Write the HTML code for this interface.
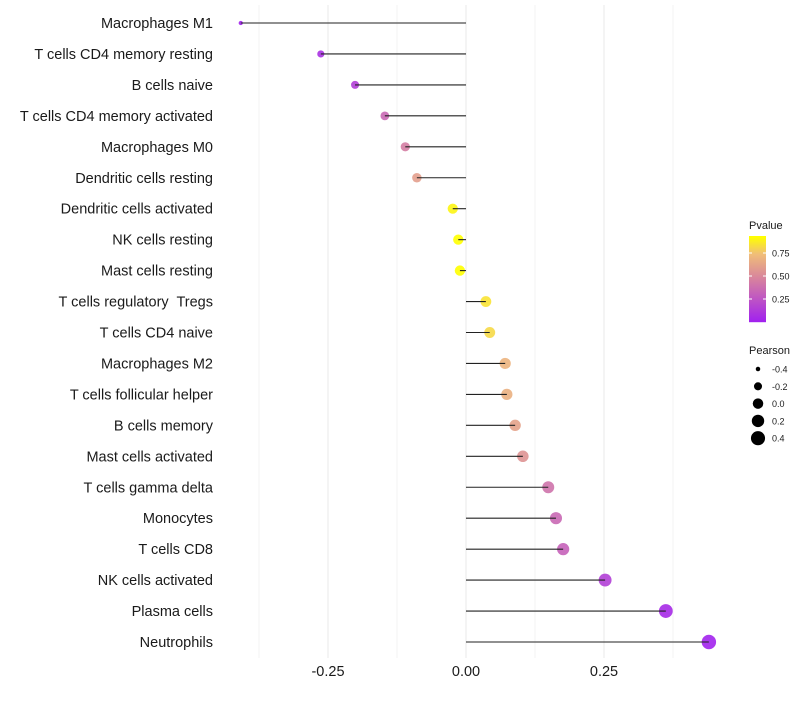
<!DOCTYPE html>
<html><head><meta charset="utf-8"><style>
body{margin:0;background:#fff;font-family:"Liberation Sans",sans-serif}
svg text{font-family:"Liberation Sans",sans-serif}
</style></head><body>
<svg id="chart" width="800" height="700">
<g id="grid"></g>
<g id="marks"></g>
<g id="ylabels"></g>
<g id="xlabels"></g>
<g id="legend"></g>
</svg>
<script>
const categories=["Macrophages M1","T cells CD4 memory resting","B cells naive","T cells CD4 memory activated","Macrophages M0","Dendritic cells resting","Dendritic cells activated","NK cells resting","Mast cells resting","T cells regulatory  Tregs","T cells CD4 naive","Macrophages M2","T cells follicular helper","B cells memory","Mast cells activated","T cells gamma delta","Monocytes","T cells CD8","NK cells activated","Plasma cells","Neutrophils"];
const pearson=[-0.408,-0.263,-0.201,-0.147,-0.110,-0.089,-0.024,-0.014,-0.011,0.036,0.043,0.071,0.074,0.089,0.103,0.149,0.163,0.176,0.252,0.362,0.440];
const pvalue=[0.02,0.08,0.15,0.35,0.45,0.6,0.9,0.93,0.95,0.85,0.82,0.7,0.68,0.62,0.55,0.4,0.35,0.32,0.15,0.05,0.02];
const xTicks=[-0.25,0,0.25];
const xTickLabels=["-0.25","0.00","0.25"];
const xGrid=[-0.375,-0.125,0.125,0.375];
const pTicks=[0.25,0.5,0.75];
const sizeTicks=[-0.4,-0.2,0.0,0.2,0.4];

const NS="http://www.w3.org/2000/svg";
const x=v=>466+v*552;
const y=i=>23+i*30.95;
const pMin=0,pMax=0.93;
function lerp(a,b,t){return a+(b-a)*t}
function color(p){
 let t=Math.max(0,Math.min(1,(p-pMin)/(pMax-pMin)));
 const stops=[[0,[160,32,240]],[0.5,[214,128,160]],[0.8,[240,190,120]],[1,[255,255,0]]];
 for(let k=0;k<stops.length-1;k++){const [a,ca]=stops[k],[b,cb]=stops[k+1];
  if(t<=b){const u=(t-a)/(b-a);return `rgb(${ca.map((c,j)=>Math.round(lerp(c,cb[j],u))).join(",")})`;}}
 return "rgb(255,255,0)";
}
const sMin=-0.45,sMax=0.44;
const rad=v=>Math.sqrt(lerp(2.25,52,(v-sMin)/(sMax-sMin)));
function mk(tag,attrs,parent){const e=document.createElementNS(NS,tag);for(const k in attrs)e.setAttribute(k,attrs[k]);parent.appendChild(e);return e;}
const grid=document.getElementById("grid"),marks=document.getElementById("marks"),yl=document.getElementById("ylabels"),xl=document.getElementById("xlabels"),lg=document.getElementById("legend");
xGrid.concat(xTicks).forEach(v=>{const l=mk("line",{x1:x(v),x2:x(v),y1:5,y2:658,stroke:"#ebebeb","stroke-width":xTicks.includes(v)?1.1:0.6},grid);

});
categories.forEach((c,i)=>{
 const pt=mk("circle",{cx:x(pearson[i]),cy:y(i),r:rad(pearson[i]),fill:color(pvalue[i]),"fill-opacity":0.9},marks);
 
 
 const ln=mk("line",{x1:x(0),x2:x(pearson[i]),y1:y(i),y2:y(i),stroke:"#222","stroke-width":1.1},marks);
 
 
 const t=mk("text",{x:213,y:y(i)+5,"text-anchor":"end","font-size":14.5,fill:"#1a1a1a","xml:space":"preserve"},yl);t.textContent=c;
 t.setAttribute('style','white-space:pre');
 
 
});
xTicks.forEach((v,i)=>{const t=mk("text",{x:x(v),y:676,"text-anchor":"middle","font-size":14.5,fill:"#1a1a1a"},xl);t.textContent=xTickLabels[i];

});
let t=mk("text",{x:749,y:229,"font-size":11,fill:"#1a1a1a"},lg);t.textContent="Pvalue";


const py=p=>322-p*92;
for(let k=0;k<86;k++){const p0=(322-(236+k))/92;mk("rect",{x:749,y:236+k,width:17,height:1.2,fill:color(p0)},lg);}
pTicks.forEach(p=>{mk("line",{x1:749,x2:752,y1:py(p),y2:py(p),stroke:"#fff"},lg);mk("line",{x1:763,x2:766,y1:py(p),y2:py(p),stroke:"#fff"},lg);
 const tt=mk("text",{x:772,y:py(p)+3.5,"font-size":9,fill:"#1a1a1a"},lg);tt.textContent=p.toFixed(2);
 
 });
t=mk("text",{x:749,y:354,"font-size":11,fill:"#1a1a1a"},lg);t.textContent="Pearson";


sizeTicks.forEach((v,k)=>{const cy=369+k*17.3;mk("circle",{cx:758,cy:cy,r:rad(v),fill:"#000"},lg);
 const tt=mk("text",{x:772,y:cy+3.5,"font-size":9,fill:"#1a1a1a"},lg);tt.textContent=v.toFixed(1);
 
 });
</script>
</body></html>
